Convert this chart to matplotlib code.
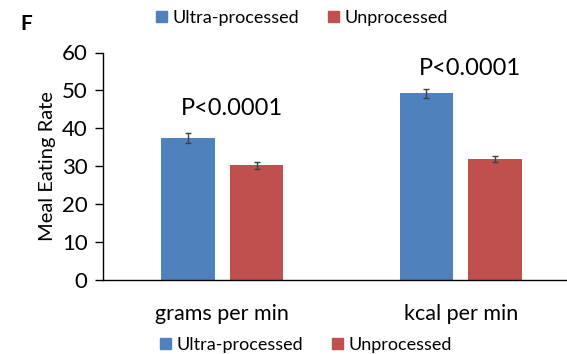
import numpy as np
import matplotlib.pyplot as plt
from matplotlib.patches import Patch

plt.rcParams['font.family'] = ['Lato', 'DejaVu Sans']

# data
categories = ['grams per min', 'kcal per min']
ultra = [37.5, 49.2]
ultra_err = [1.3, 1.3]
unproc = [30.2, 32.0]
unproc_err = [0.8, 0.8]
p_labels = ['P<0.0001', 'P<0.0001']
p_heights = [45.3, 55.8]

blue = '#4F81BD'
red = '#C0504D'

fig = plt.figure(figsize=(5.67, 3.54), dpi=100)
# axes run past the right edge, as in the reference
ax = fig.add_axes([103 / 567, 1 - 280 / 354, 477 / 567, 227.5 / 354])

x = np.arange(len(categories))
w = 0.224
off = 0.144
ax.bar(x - off, ultra, w, color=blue)
ax.bar(x + off, unproc, w, color=red)
ax.errorbar(x - off, ultra, yerr=ultra_err, fmt='none', ecolor='#404040',
            elinewidth=1, capsize=2.5, capthick=1)
ax.errorbar(x + off, unproc, yerr=unproc_err, fmt='none', ecolor='#404040',
            elinewidth=1, capsize=2.5, capthick=1)

for xi, lab, h in zip(x, p_labels, p_heights):
    ax.text(xi + 0.04, h, lab, ha='center', va='center', fontsize=17)

ax.set_xlim(-0.5, 1.5)
ax.set_ylim(0, 60)
ax.set_yticks(range(0, 61, 10))
ax.set_xticks(x)
ax.set_xticklabels(categories, fontsize=15.5)
ax.tick_params(axis='x', length=0, pad=17)
ax.tick_params(axis='y', labelsize=16, length=6, width=1, pad=5)
ax.set_ylabel('Meal Eating Rate', fontsize=14.5, labelpad=4)
for s in ['top', 'right']:
    ax.spines[s].set_visible(False)
ax.spines['left'].set_linewidth(1)
ax.spines['bottom'].set_linewidth(1)

handles = [Patch(color=blue, label='Ultra-processed'),
           Patch(color=red, label='Unprocessed')]
for xx, yy in [(302, 18), (306, 345)]:
    fig.legend(handles=handles, loc='center', bbox_to_anchor=(xx / 567, 1 - yy / 354),
               ncol=2, frameon=False, fontsize=13, handlelength=0.6,
               handleheight=0.6, handletextpad=0.3, columnspacing=1.6)

fig.text(20 / 567, 1 - 23.5 / 354, 'F', fontsize=15, fontweight='bold',
         va='center', ha='left')

fig.savefig('out.png', dpi=100)
